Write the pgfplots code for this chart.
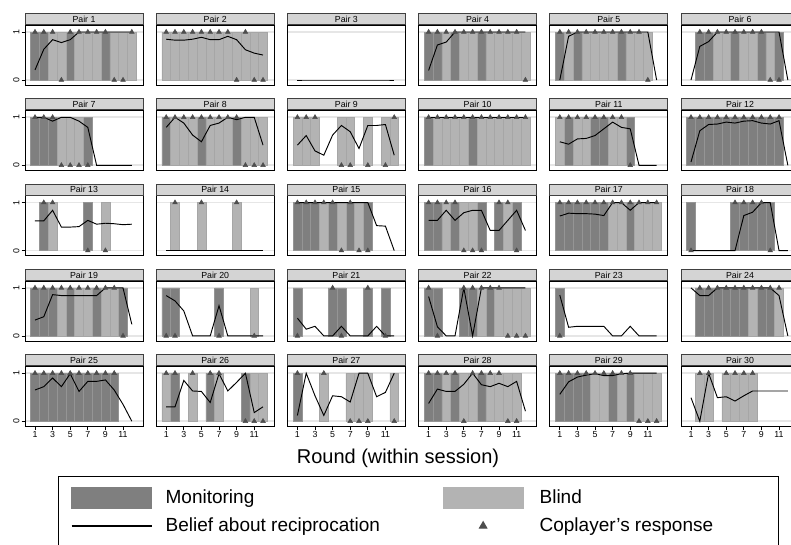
\documentclass[border=0pt]{standalone}
\usepackage{fontspec}
\setmainfont{Liberation Sans}
\usepackage{pgfplots}
\pgfplotsset{compat=1.18}

\definecolor{mon}{HTML}{7F7F7F}
\definecolor{monedge}{HTML}{959595}
\definecolor{blind}{HTML}{B3B3B3}
\definecolor{blindedge}{HTML}{A6A6A6}
\definecolor{tri}{HTML}{4D4D4D}
\definecolor{strip}{HTML}{D4D4D4}
\definecolor{stripline}{HTML}{404040}
\definecolor{gridc}{HTML}{E6E6E6}

\newcommand\tickfont{\fontsize{6.6}{7.5}\selectfont}

\pgfplotsset{
  every axis title shift=0pt,
  panel/.style={
    scale only axis, width=88.5pt, height=45pt, anchor=north west,
    xmin=-0.136, xmax=13.27, ymin=-0.104, ymax=1.146,
    axis line style={black, line width=0.6pt},
    xtick={1,3,5,7,9,11}, ytick={0,1},
    xticklabels={}, yticklabels={},
    x tick style={draw=none}, y tick style={draw=none},
    major tick length=2.5pt, tick align=outside, tickpos=left,
    ymajorgrids, grid style={gridc, line width=1.3pt},
    ticklabel style={font=\tickfont},
    /pgf/number format/assume math mode=true,
    title style={at={(0.5,1)}, anchor=south, yshift=0pt, draw=stripline, fill=strip,
      line width=0.6pt, minimum width=88.5pt, minimum height=8.25pt,
      inner sep=0pt, font=\tickfont},
  },
  firstcol/.style={yticklabels={0,1}, y tick style={draw=black, line width=0.5pt},
    yticklabel style={rotate=90, anchor=south, inner sep=1.5pt}},
  lastrow/.style={xticklabels={1,3,5,7,9,11}, x tick style={draw=black, line width=0.5pt},
    xticklabel style={inner sep=1pt}},
}

% #1 col, #2 row, #3 pair, #4 options, #5 monitoring rounds, #6 blind rounds,
% #7 belief, #8 response at 1, #9 response at 0
\newcommand\pairpanel[9]{%
  \begin{axis}[panel, at={(18.75pt+98.4pt*#1,-18.75pt-63.975pt*#2)}, title={Pair #3}, #4]
    \if\relax\detokenize{#5}\relax\else
      \addplot[ybar, bar width=1, bar shift=0pt, fill=mon, draw=monedge, line width=0.4pt] coordinates {#5};\fi
    \if\relax\detokenize{#6}\relax\else
      \addplot[ybar, bar width=1, bar shift=0pt, fill=blind, draw=blindedge, line width=0.4pt] coordinates {#6};\fi
    \addplot[black, line width=0.7pt, sharp plot, no markers] coordinates {#7};
    \if\relax\detokenize{#8}\relax\else
      \addplot[only marks, mark=triangle*, mark size=2pt, tri] coordinates {#8};\fi
    \if\relax\detokenize{#9}\relax\else
      \addplot[only marks, mark=triangle*, mark size=2pt, tri] coordinates {#9};\fi
  \end{axis}}

\begin{document}
\begin{tikzpicture}
\path[use as bounding box] (0,0) rectangle (593.25pt,-408.75pt);
\clip (0,0) rectangle (593.25pt,-408.75pt);

% row 1
\pairpanel{0}{0}{1}{firstcol}
{(1,1)(2,1)(5,1)(9,1)}
{(3,1)(4,1)(6,1)(7,1)(8,1)(10,1)(11,1)(12,1)}
{(1,0.21)(2,0.64)(3,0.84)(4,0.78)(5,0.84)(6,1)(7,1)(8,1)(9,1)(10,1)(11,1)(12,1)}
{(1,1)(2,1)(3,1)(5,1)(6,1)(7,1)(8,1)(9,1)(12,1)}
{(4,0)(10,0)(11,0)}
\pairpanel{1}{0}{2}{}
{}
{(1,1)(2,1)(3,1)(4,1)(5,1)(6,1)(7,1)(8,1)(9,1)(10,1)(11,1)(12,1)}
{(1,0.85)(2,0.83)(3,0.83)(4,0.85)(5,0.89)(6,0.84)(7,0.84)(8,0.91)(9,0.84)(10,0.63)(11,0.56)(12,0.52)}
{(1,1)(2,1)(3,1)(4,1)(5,1)(6,1)(7,1)(8,1)(10,1)}
{(9,0)(11,0)(12,0)}
\pairpanel{2}{0}{3}{}
{}
{}
{(1,0)(2,0)(3,0)(4,0)(5,0)(6,0)(7,0)(8,0)(9,0)(10,0)(11,0)(12,0)}
{}
{}
\pairpanel{3}{0}{4}{}
{(1,1)(2,1)(4,1)(7,1)}
{(3,1)(5,1)(6,1)(8,1)(9,1)(10,1)(11,1)(12,1)}
{(1,0.2)(2,0.73)(3,0.79)(4,1)(5,1)(6,1)(7,1)(8,1)(9,1)(10,1)(11,1)(12,1)}
{(1,1)(2,1)(3,1)(4,1)(5,1)(6,1)(7,1)(8,1)(9,1)(10,1)(11,1)}
{(12,0)}
\pairpanel{4}{0}{5}{}
{(1,1)(3,1)(8,1)}
{(2,1)(4,1)(5,1)(6,1)(7,1)(9,1)(10,1)(11,1)}
{(1,0)(2,0.91)(3,1)(4,1)(5,1)(6,1)(7,1)(8,1)(9,1)(10,1)(11,1)(12,0)}
{(1,1)(2,1)(3,1)(4,1)(5,1)(6,1)(7,1)(8,1)(9,1)(10,1)}
{(11,0)}
\pairpanel{5}{0}{6}{}
{(2,1)(3,1)(6,1)(9,1)(11,1)}
{(4,1)(5,1)(7,1)(8,1)(10,1)}
{(1,0)(2,0.7)(3,0.8)(4,1)(5,1)(6,1)(7,1)(8,1)(9,1)(10,1)(11,1)(12,0)}
{(2,1)(3,1)(4,1)(5,1)(6,1)(7,1)(8,1)(9,1)}
{(10,0)(11,0)}

% row 2
\pairpanel{0}{1}{7}{firstcol}
{(1,1)(2,1)(3,1)(7,1)}
{(4,1)(5,1)(6,1)}
{(1,1)(2,1)(3,0.92)(4,1)(5,1)(6,0.92)(7,0.79)(8,0)(9,0)(10,0)(11,0)(12,0)}
{(1,1)(2,1)(3,1)}
{(4,0)(5,0)(6,0)(7,0)}
\pairpanel{1}{1}{8}{}
{(1,1)(5,1)(9,1)}
{(2,1)(3,1)(4,1)(6,1)(7,1)(8,1)(10,1)(11,1)(12,1)}
{(1,0.79)(2,1)(3,0.88)(4,0.63)(5,0.49)(6,0.83)(7,0.88)(8,1)(9,0.95)(10,1)(11,1)(12,0.42)}
{(1,1)(2,1)(3,1)(4,1)(5,1)(6,1)(7,1)(8,1)(9,1)}
{(10,0)(11,0)(12,0)}
\pairpanel{2}{1}{9}{}
{}
{(1,1)(2,1)(3,1)(6,1)(7,1)(9,1)(11,1)(12,1)}
{(1,0.42)(2,0.62)(3,0.3)(4,0.21)(5,0.63)(6,0.83)(7,0.7)(8,0.35)(9,0.83)(10,0.83)(11,0.85)(12,0.21)}
{(1,1)(2,1)(3,1)(12,1)}
{(6,0)(7,0)(9,0)(11,0)}
\pairpanel{3}{1}{10}{}
{(1,1)(6,1)}
{(2,1)(3,1)(4,1)(5,1)(7,1)(8,1)(9,1)(10,1)(11,1)(12,1)}
{(1,1)(2,1)(3,1)(4,1)(5,1)(6,1)(7,1)(8,1)(9,1)(10,1)(11,1)(12,1)}
{(1,1)(2,1)(3,1)(4,1)(5,1)(6,1)(7,1)(8,1)(9,1)(10,1)(11,1)(12,1)}
{}
\pairpanel{4}{1}{11}{}
{(2,1)(5,1)(6,1)(9,1)}
{(1,1)(3,1)(4,1)(7,1)(8,1)}
{(1,0.49)(2,0.44)(3,0.55)(4,0.56)(5,0.62)(6,0.76)(7,0.9)(8,0.79)(9,0.76)(10,0)(11,0)(12,0)}
{(1,1)(2,1)(3,1)(4,1)(5,1)(6,1)(7,1)(8,1)}
{(9,0)}
\pairpanel{5}{1}{12}{}
{(1,1)(2,1)(3,1)(4,1)(5,1)(6,1)(7,1)(8,1)(9,1)(10,1)(11,1)}
{}
{(1,0.07)(2,0.72)(3,0.85)(4,0.86)(5,0.9)(6,0.88)(7,0.92)(8,0.93)(9,0.88)(10,0.86)(11,0.93)(12,0)}
{(1,1)(2,1)(3,1)(4,1)(5,1)(6,1)(7,1)(8,1)(9,1)(10,1)(11,1)}
{}

% row 3
\pairpanel{0}{2}{13}{firstcol}
{(2,1)(7,1)}
{(3,1)(9,1)}
{(1,0.62)(2,0.62)(3,0.84)(4,0.49)(5,0.49)(6,0.5)(7,0.63)(8,0.55)(9,0.57)(10,0.56)(11,0.54)(12,0.55)}
{(2,1)(3,1)}
{(7,0)(9,0)}
\pairpanel{1}{2}{14}{}
{}
{(2,1)(5,1)(9,1)}
{(1,0)(2,0)(3,0)(4,0)(5,0)(6,0)(7,0)(8,0)(9,0)(10,0)(11,0)(12,0)}
{(2,1)(5,1)(9,1)}
{}
\pairpanel{2}{2}{15}{}
{(1,1)(2,1)(3,1)(5,1)(7,1)(9,1)}
{(4,1)(6,1)(8,1)}
{(1,1)(2,1)(3,1)(4,1)(5,1)(6,1)(7,1)(8,1)(9,1)(10,0.52)(11,0.51)(12,0)}
{(1,1)(2,1)(3,1)(4,1)(5,1)(7,1)}
{(6,0)(8,0)(9,0)}
\pairpanel{3}{2}{16}{}
{(1,1)(2,1)(4,1)(7,1)(9,1)(11,1)}
{(3,1)(5,1)(6,1)(10,1)}
{(1,0.63)(2,0.63)(3,0.84)(4,0.63)(5,0.79)(6,0.84)(7,0.84)(8,0.42)(9,0.42)(10,0.63)(11,0.84)(12,0.42)}
{(1,1)(2,1)(3,1)(4,1)(9,1)(10,1)}
{(5,0)(6,0)(7,0)(11,0)}
\pairpanel{4}{2}{17}{}
{(1,1)(2,1)(3,1)(4,1)(5,1)(6,1)(9,1)}
{(7,1)(8,1)(10,1)(11,1)(12,1)}
{(1,0.72)(2,0.78)(3,0.77)(4,0.77)(5,0.76)(6,0.73)(7,1)(8,1)(9,0.84)(10,1)(11,1)(12,1)}
{(1,1)(2,1)(3,1)(4,1)(5,1)(6,1)(7,1)(8,1)(9,1)(10,1)(11,1)(12,1)}
{}
\pairpanel{5}{2}{18}{}
{(1,1)(6,1)(7,1)(8,1)(9,1)(10,1)}
{}
{(1,0)(2,0)(3,0)(4,0)(5,0)(6,0)(7,0.73)(8,0.8)(9,1)(10,1)(11,0)(12,0)}
{(6,1)(7,1)(8,1)(9,1)}
{(1,0)(10,0)}

% row 4
\pairpanel{0}{3}{19}{firstcol}
{(1,1)(2,1)(3,1)(5,1)(8,1)(11,1)}
{(4,1)(6,1)(7,1)(9,1)(10,1)}
{(1,0.33)(2,0.4)(3,0.86)(4,0.84)(5,0.84)(6,0.84)(7,0.84)(8,0.84)(9,1)(10,1)(11,1)(12,0.24)}
{(1,1)(2,1)(3,1)(4,1)(5,1)(6,1)(7,1)(8,1)(9,1)(10,1)}
{(11,0)}
\pairpanel{1}{3}{20}{}
{(1,1)(2,1)(7,1)}
{(11,1)}
{(1,0.84)(2,0.73)(3,0.52)(4,0)(5,0)(6,0)(7,0.63)(8,0)(9,0)(10,0)(11,0)(12,0)}
{}
{(1,0)(2,0)(7,0)(11,0)}
\pairpanel{2}{3}{21}{}
{(1,1)(5,1)(6,1)(9,1)(11,1)}
{}
{(1,0.37)(2,0.14)(3,0.2)(4,0)(5,0)(6,0.2)(7,0)(8,0)(9,0)(10,0.2)(11,0)(12,0)}
{(5,1)(9,1)}
{(1,0)(6,0)(11,0)}
\pairpanel{3}{3}{22}{}
{(1,1)(2,1)(5,1)(6,1)(8,1)}
{(7,1)(9,1)(10,1)(11,1)(12,1)}
{(1,0.82)(2,0.19)(3,0)(4,0)(5,1)(6,0)(7,1)(8,1)(9,1)(10,1)(11,1)(12,1)}
{(1,1)(5,1)(6,1)(7,1)(8,1)(9,1)}
{(2,0)(10,0)(11,0)(12,0)}
\pairpanel{4}{3}{23}{}
{(1,1)}
{}
{(1,0.85)(2,0.18)(3,0.2)(4,0.2)(5,0.2)(6,0.2)(7,0)(8,0)(9,0.2)(10,0)(11,0)(12,0)}
{}
{(1,0)}
\pairpanel{5}{3}{24}{}
{(2,1)(3,1)(4,1)(5,1)(6,1)(7,1)(9,1)(10,1)}
{(8,1)(11,1)}
{(1,1)(2,0.84)(3,0.84)(4,1)(5,1)(6,1)(7,1)(8,1)(9,1)(10,1)(11,0.84)(12,0)}
{(2,1)(3,1)(4,1)(5,1)(6,1)(7,1)(8,1)(9,1)(10,1)(11,1)}
{}

% row 5
\pairpanel{0}{4}{25}{firstcol, lastrow}
{(1,1)(2,1)(3,1)(4,1)(5,1)(6,1)(7,1)(8,1)(9,1)(10,1)}
{}
{(1,0.65)(2,0.72)(3,0.9)(4,0.72)(5,0.99)(6,0.62)(7,0.83)(8,0.83)(9,0.86)(10,0.65)(11,0.35)(12,0)}
{(1,1)(2,1)(3,1)(4,1)(5,1)(6,1)(7,1)(8,1)(9,1)(10,1)}
{}
\pairpanel{1}{4}{26}{lastrow}
{(2,1)(6,1)(10,1)}
{(1,1)(4,1)(7,1)(11,1)(12,1)}
{(1,0.3)(2,0.3)(3,0.85)(4,0.63)(5,0.62)(6,0.39)(7,0.99)(8,0.63)(9,0.81)(10,1)(11,0.18)(12,0.3)}
{(1,1)(2,1)(4,1)(6,1)(7,1)}
{(10,0)(11,0)(12,0)}
\pairpanel{2}{4}{27}{lastrow}
{(1,1)}
{(4,1)(7,1)(8,1)(9,1)(12,1)}
{(1,0.12)(2,1)(3,0.53)(4,0.12)(5,0.53)(6,0.51)(7,0.4)(8,1)(9,1)(10,0.51)(11,0.6)(12,1)}
{(1,1)(4,1)}
{(7,0)(8,0)(9,0)(12,0)}
\pairpanel{3}{4}{28}{lastrow}
{(1,1)(2,1)(4,1)(7,1)}
{(3,1)(5,1)(6,1)(8,1)(9,1)(10,1)(11,1)}
{(1,0.37)(2,0.67)(3,0.62)(4,0.62)(5,0.77)(6,1)(7,0.76)(8,0.72)(9,0.79)(10,0.72)(11,0.83)(12,0.21)}
{(1,1)(2,1)(3,1)(4,1)(6,1)(7,1)(8,1)(9,1)}
{(5,0)(10,0)(11,0)}
\pairpanel{4}{4}{29}{lastrow}
{(1,1)(2,1)(3,1)(4,1)(7,1)(9,1)}
{(5,1)(6,1)(8,1)(10,1)(11,1)(12,1)}
{(1,0.56)(2,0.82)(3,0.92)(4,0.96)(5,0.99)(6,0.95)(7,0.95)(8,0.99)(9,1)(10,1)(11,1)(12,1)}
{(1,1)(2,1)(3,1)(4,1)(5,1)(6,1)(7,1)(8,1)(9,1)}
{(10,0)(11,0)(12,0)}
\pairpanel{5}{4}{30}{lastrow}
{}
{(2,1)(3,1)(5,1)(6,1)(7,1)(8,1)}
{(1,0.49)(2,0)(3,1)(4,0.49)(5,0.51)(6,0.42)(7,0.53)(8,0.63)(9,0.63)(10,0.63)(11,0.63)(12,0.63)}
{(2,1)(3,1)(5,1)(6,1)(7,1)(8,1)}
{}

\node[font=\fontsize{15}{18}\selectfont] at (298.5pt,-343.5pt) {Round (within session)};

% legend
\begin{axis}[hide axis, scale only axis, width=537.75pt, height=60pt,
  at={(43.5pt,-357pt)}, anchor=north west, xmin=0, xmax=1, ymin=0, ymax=1,
  legend columns=2,
  legend style={at={(0,1)}, anchor=north west, draw=black, line width=0.75pt,
    inner xsep=9pt, inner ysep=7.5pt, column sep=0pt, row sep=5.25pt,
    nodes={inner sep=0pt}, cells={anchor=center},
    font=\fontsize{14.25}{16}\selectfont}]
\addlegendimage{legend image code/.code={\fill[mon] (0pt,-7.875pt) rectangle (60pt,7.875pt);}}
\addlegendentry{\makebox[217.5pt][l]{\hspace{9.75pt}Monitoring}}
\addlegendimage{legend image code/.code={\fill[blind] (0pt,-7.875pt) rectangle (60pt,7.875pt);}}
\addlegendentry{\makebox[182.25pt][l]{\hspace{12pt}Blind}}
\addlegendimage{legend image code/.code={\path[draw=none, fill=none] (0pt,-7.875pt) rectangle (60pt,7.875pt);
  \draw[black, line width=1.6pt] (0pt,0pt) -- (60pt,0pt);}}
\addlegendentry{\makebox[217.5pt][l]{\hspace{9.75pt}Belief about reciprocation}}
\addlegendimage{legend image code/.code={\path[draw=none, fill=none] (0pt,-7.875pt) rectangle (60pt,7.875pt);
  \draw[tri] plot[mark=triangle*, mark size=3.2pt, mark options={fill=tri, draw=tri}] coordinates {(30pt,0pt)};}}
\addlegendentry{\makebox[182.25pt][l]{\hspace{12pt}Coplayer's response}}
\end{axis}
\end{tikzpicture}
\end{document}
